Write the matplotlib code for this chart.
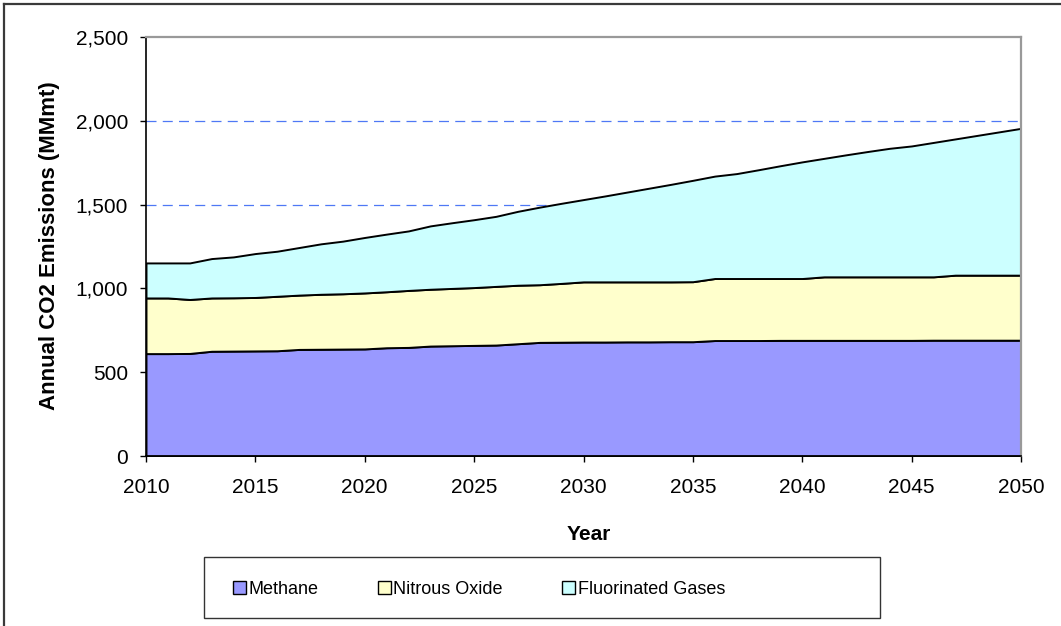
import matplotlib
matplotlib.use("Agg")
import matplotlib.pyplot as plt
from matplotlib.patches import Patch, Rectangle
from matplotlib.lines import Line2D
from matplotlib.ticker import FuncFormatter, MultipleLocator

plt.rcParams['font.family'] = ['Liberation Sans', 'DejaVu Sans']

# Annual non-CO2 greenhouse gas emissions, CO2-equivalent (MMmt)
years = list(range(2010, 2051))

methane = [611, 611, 612, 625, 626, 627, 628, 636, 637, 638,
           639, 646, 648, 656, 658, 660, 662, 670, 678, 679,
           680, 680, 681, 681, 682, 682, 689, 689, 689, 690,
           690, 690, 690, 690, 690, 690, 691, 691, 691, 691, 691]

nitrous_oxide = [332, 332, 322, 318, 318, 319, 325, 324, 328, 330,
                 334, 334, 340, 339, 342, 345, 350, 349, 344, 351,
                 359, 359, 358, 358, 357, 358, 370, 370, 370, 369,
                 369, 379, 379, 379, 379, 379, 378, 388, 388, 388, 388]

fluorinated = [209, 209, 218, 235, 244, 262, 269, 284, 301, 314,
               331, 344, 355, 378, 392, 405, 418, 441, 463, 478,
               491, 513, 536, 559, 582, 605, 611, 626, 649, 673,
               696, 707, 728, 748, 767, 781, 802, 813, 834, 855, 876]

series_names = ["Methane", "Nitrous Oxide", "Fluorinated Gases"]
series_colors = ["#9999FF", "#FFFFCC", "#CCFFFF"]

W, H = 1061, 626
fig = plt.figure(figsize=(W / 100, H / 100), dpi=100)
fig.patch.set_facecolor("white")

ax = fig.add_axes([146 / W, (H - 456) / H, 875 / W, 419 / H])

ax.stackplot(years, methane, nitrous_oxide, fluorinated,
             colors=series_colors, edgecolor="black", linewidth=1.4,
             zorder=3)

ax.set_xlim(2010, 2050)
ax.set_ylim(0, 2500)
ax.xaxis.set_major_locator(MultipleLocator(5))
ax.yaxis.set_major_locator(MultipleLocator(500))
ax.yaxis.set_major_formatter(FuncFormatter(lambda v, p: f"{int(v):,}"))

ax.tick_params(axis="both", direction="out", length=4.5, width=1,
               colors="black", labelsize=15)
ax.tick_params(axis="y", pad=8.5)
ax.tick_params(axis="x", pad=11)

# dashed horizontal gridlines (hidden where the areas cover them)
for v in [500, 1000, 1500, 2000]:
    ax.axhline(v, color="#4f78f5", linewidth=0.9, linestyle=(0, (8, 5)),
               zorder=1)

for side in ["left", "bottom"]:
    ax.spines[side].set_color("black")
    ax.spines[side].set_linewidth(1.2)
    ax.spines[side].set_zorder(5)
for side in ["top", "right"]:
    ax.spines[side].set_color("#999999")
    ax.spines[side].set_linewidth(1.6)
    ax.spines[side].set_zorder(5)

fig.text(50 / W, 1 - 246 / H, "Annual CO2 Emissions (MMmt)", rotation=90,
         fontsize=16, fontweight="bold", ha="center", va="center")

fig.text(589 / W, 1 - 535 / H, "Year", fontsize=15, fontweight="bold",
         ha="center", va="center")

# legend frame and entries
fig.patches.append(Rectangle((204 / W, 1 - 618 / H), (880 - 204) / W,
                             (618 - 557) / H, transform=fig.transFigure,
                             facecolor="white", edgecolor="#333333",
                             linewidth=1.0))
handles = [Patch(facecolor=c, edgecolor="black", linewidth=1.0)
           for c in series_colors]
fig.legend(handles, series_names, loc="center left",
           bbox_to_anchor=(233 / W, 1 - 589 / H), ncol=3,
           frameon=False, fontsize=13, borderpad=0, borderaxespad=0,
           handlelength=0.7, handleheight=0.7, handletextpad=0.15,
           columnspacing=3.3)

# outer chart border
fig.add_artist(Line2D([4 / W, 4 / W], [0, 1 - 4 / H], transform=fig.transFigure,
                      color="#3a3a3a", linewidth=1.6))
fig.add_artist(Line2D([4 / W, 1], [1 - 4 / H, 1 - 4 / H], transform=fig.transFigure,
                      color="#3a3a3a", linewidth=1.6))

fig.savefig("out.png", dpi=100)
